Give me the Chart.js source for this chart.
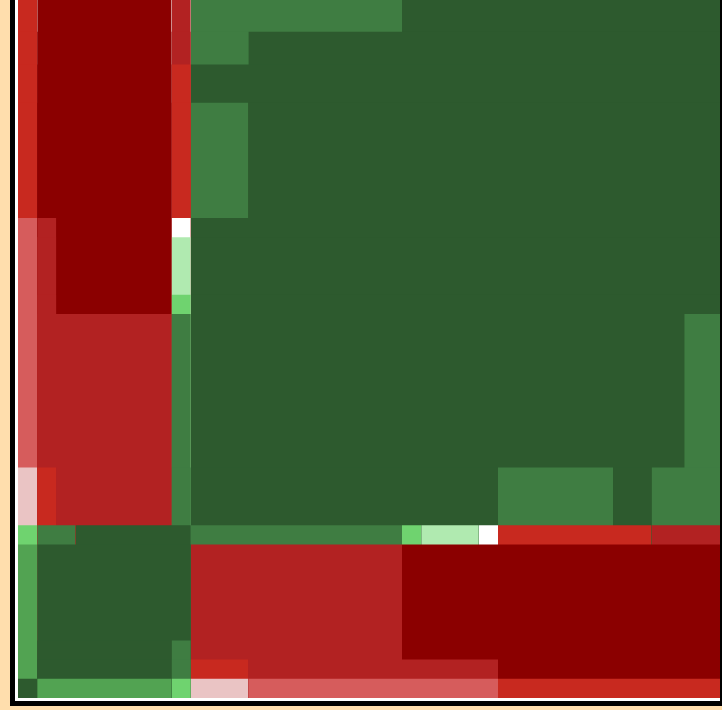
<!DOCTYPE html>
<html>
<head>
<meta charset="utf-8">
<script src="https://cdn.jsdelivr.net/npm/chart.js"></script>
<style>
  html, body { margin: 0; padding: 0; }
  body { width: 722px; height: 710px; overflow: hidden; background: #ffdead; position: relative; }
  #frame { position: absolute; left: 10px; top: -40px; width: 760px; height: 746px; background: #000; }
  #paper { position: absolute; left: 15px; top: -40px; width: 705px; height: 741px; background: #fff; overflow: hidden; }
  #c { position: absolute; left: 3px; top: 18px; }
</style>
</head>
<body>
<div id="frame"></div>
<div id="paper"><canvas id="c" width="720" height="720"></canvas></div>
<script>
// block edges in cell units, same on both axes (the matrix is symmetric)
const edges = [0, 1, 2, 3, 8, 9, 12, 20, 21, 24, 25, 31, 33, 34.7, 37.5];

// level per block: rows bottom -> top, cols left -> right, -5 dark red ... 5 dark green
const levels = [
  [ 5,  3,  3,  3,  2, -1, -2, -2, -2, -2, -3, -3, -3, -3],
  [ 3,  5,  5,  5,  4, -3, -4, -4, -4, -4, -5, -5, -5, -5],
  [ 3,  5,  5,  5,  4, -4, -4, -5, -5, -5, -5, -5, -5, -5],
  [ 3,  5,  5,  5,  5, -4, -4, -5, -5, -5, -5, -5, -5, -5],
  [ 2,  4,  4,  5,  5,  4,  4,  2,  1,  0, -3, -3, -4, -4],
  [-1, -3, -4, -4,  4,  5,  5,  5,  5,  5,  4,  5,  4,  4],
  [-2, -4, -4, -4,  4,  5,  5,  5,  5,  5,  5,  5,  5,  4],
  [-2, -4, -5, -5,  2,  5,  5,  5,  5,  5,  5,  5,  5,  5],
  [-2, -4, -5, -5,  1,  5,  5,  5,  5,  5,  5,  5,  5,  5],
  [-2, -4, -5, -5,  0,  5,  5,  5,  5,  5,  5,  5,  5,  5],
  [-3, -5, -5, -5, -3,  4,  5,  5,  5,  5,  5,  5,  5,  5],
  [-3, -5, -5, -5, -3,  5,  5,  5,  5,  5,  5,  5,  5,  5],
  [-3, -5, -5, -5, -4,  4,  5,  5,  5,  5,  5,  5,  5,  5],
  [-3, -5, -5, -5, -4,  4,  4,  5,  5,  5,  5,  5,  5,  5]
];

const palette = ['#8b0000', '#b22222', '#c8291f', '#d65c5c', '#eac4c4', '#ffffff',
                 '#b0eab0', '#6fd36f', '#52a352', '#3f7d42', '#2d5a2e'];

// one filled line per block row, filled down to the bottom; lower rows are drawn on top
const datasets = levels.map((row, r) => ({
  data: edges.map(x => ({x: x, y: edges[r + 1]})),
  fill: 'start',
  borderWidth: 0,
  borderColor: 'transparent',
  pointRadius: 0,
  backgroundColor: palette[row[0] + 5],
  segment: {
    backgroundColor: ctx => palette[row[ctx.p0DataIndex] + 5]
  }
}));

new Chart(document.getElementById('c'), {
  type: 'line',
  data: { datasets: datasets },
  options: {
    responsive: false,
    animation: false,
    events: [],
    layout: { padding: 0 },
    plugins: { legend: { display: false }, tooltip: { enabled: false } },
    scales: {
      x: { type: 'linear', min: 0, max: 37.5, display: false },
      y: { type: 'linear', min: 0, max: 37.5, display: false }
    }
  }
});
</script>
</body>
</html>
